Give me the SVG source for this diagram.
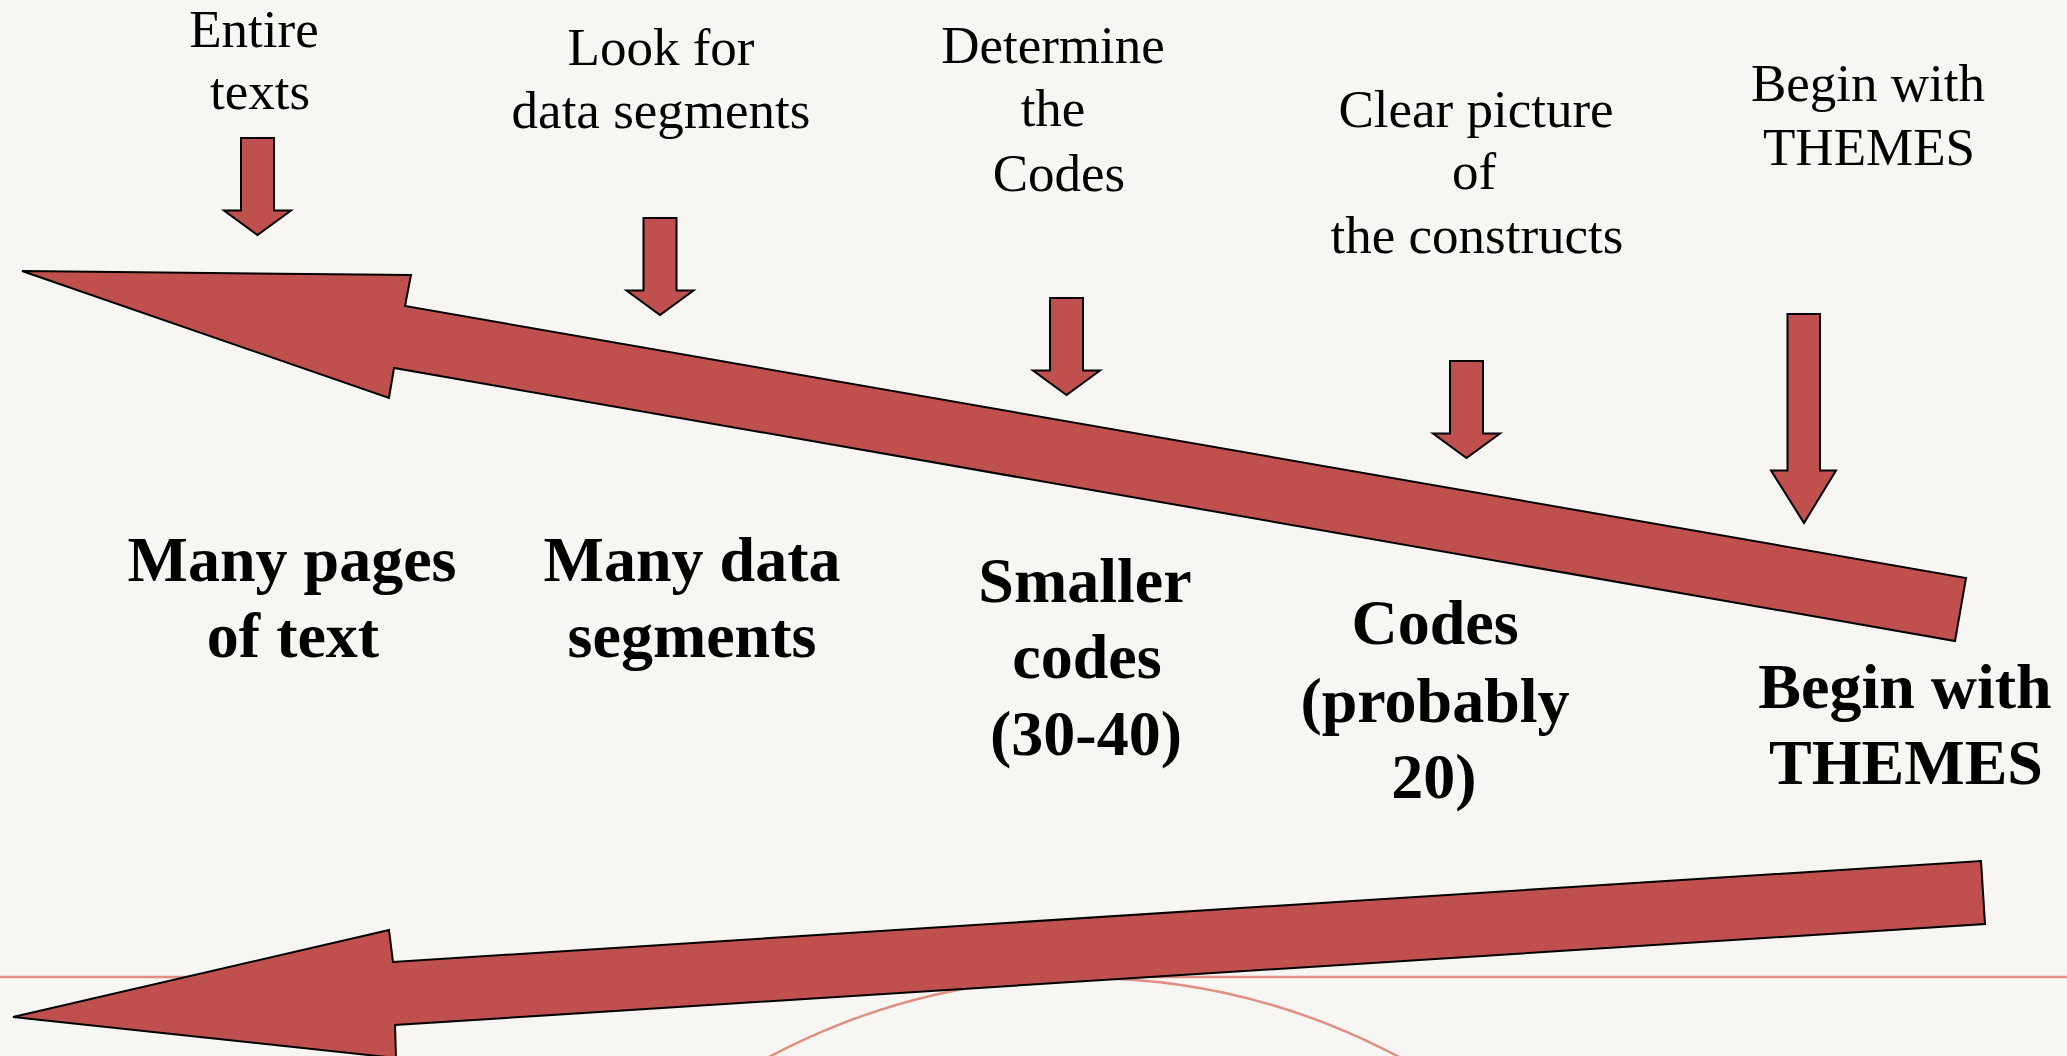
<svg xmlns="http://www.w3.org/2000/svg" width="2067" height="1056" viewBox="0 0 2067 1056">
<style>
.bg{fill:#f7f6f2}
.deco{fill:none;stroke:#df8f84;stroke-width:2.5}
.blk{fill:#c0504d;stroke:#000;stroke-width:2;stroke-linejoin:miter}
.lbl{font-family:"Liberation Serif","Times New Roman",serif;font-size:53px;fill:#000;text-anchor:middle}
.res{font-family:"Liberation Serif","Times New Roman",serif;font-size:64px;font-weight:bold;fill:#000;text-anchor:middle}
</style>
<defs>
<path id="down" d="M-16.5,0 H16.5 V72.5 H33.5 L0,97 L-33.5,72.5 H-16.5 Z"/>
</defs>
<rect class="bg" x="0" y="0" width="2067" height="1056"/>
<g id="decoration">
<line class="deco" x1="0" y1="977" x2="2067" y2="977"/>
<circle class="deco" cx="1084" cy="1645" r="667"/>
</g>
<g id="connectors">
<polygon id="main-arrow" class="blk" points="22,271 411,275 405,306 1966,578 1955,641 394,368 389,398"/>
<polygon id="return-arrow" class="blk" points="13,1017 389,930 393,962 1981,861 1985,924 395,1025 396,1058"/>
</g>
<g id="step1">
<text class="lbl" x="254" y="47">Entire</text>
<text class="lbl" x="260" y="109">texts</text>
<use href="#down" class="blk" transform="translate(257.5,138)"/>
</g>
<g id="step2">
<text class="lbl" x="661" y="65">Look for</text>
<text class="lbl" x="661" y="128">data segments</text>
<use href="#down" class="blk" transform="translate(660,218)"/>
</g>
<g id="step3">
<text class="lbl" x="1053" y="63">Determine</text>
<text class="lbl" x="1053" y="126">the</text>
<text class="lbl" x="1059" y="191">Codes</text>
<use href="#down" class="blk" transform="translate(1066.5,298)"/>
</g>
<g id="step4">
<text class="lbl" x="1476" y="127">Clear picture</text>
<text class="lbl" x="1474" y="189">of</text>
<text class="lbl" x="1477" y="253">the constructs</text>
<use href="#down" class="blk" transform="translate(1466.5,361)"/>
</g>
<g id="step5">
<text class="lbl" x="1868" y="101">Begin with</text>
<text class="lbl" x="1869" y="165">THEMES</text>
<path class="blk" d="M1787.5,314 H1820 V470.5 H1836 L1804,523 L1771,470.5 H1787.5 Z"/>
</g>
<g id="result1">
<text class="res" x="292" y="581">Many pages</text>
<text class="res" x="293" y="657">of text</text>
</g>
<g id="result2">
<text class="res" x="692" y="581">Many data</text>
<text class="res" x="692" y="657">segments</text>
</g>
<g id="result3">
<text class="res" x="1085" y="602">Smaller</text>
<text class="res" x="1087" y="678">codes</text>
<text class="res" x="1086" y="755">(30-40)</text>
</g>
<g id="result4">
<text class="res" x="1435" y="644">Codes</text>
<text class="res" x="1435" y="722">(probably</text>
<text class="res" x="1434" y="798">20)</text>
</g>
<g id="result5">
<text class="res" x="1905" y="708">Begin with</text>
<text class="res" x="1906" y="784">THEMES</text>
</g>
</svg>
